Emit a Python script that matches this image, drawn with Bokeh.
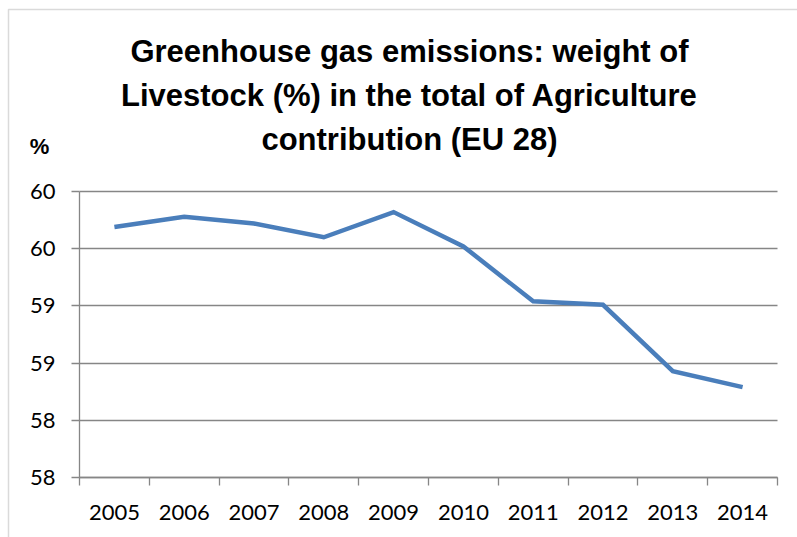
from bokeh.plotting import figure
from bokeh.models import FixedTicker, NumeralTickFormatter, Label, BoxAnnotation, Range1d
from bokeh.embed import file_html
from bokeh.resources import INLINE

# Share of livestock in agriculture GHG emissions, EU 28
years = ["2005", "2006", "2007", "2008", "2009", "2010", "2011", "2012", "2013", "2014"]
livestock_share = [59.99, 60.08, 60.02, 59.90, 60.12, 59.82, 59.34, 59.31, 58.73, 58.59]

y_ticks = [57.8, 58.3, 58.8, 59.3, 59.8, 60.3]

title_lines = [
    "Greenhouse gas emissions: weight of",
    "Livestock (%) in the total of Agriculture",
    "contribution (EU 28)",
]
unit_label = "%"

W, H = 797, 537
# plot area inside the canvas (pixels)
AREA_LEFT, AREA_RIGHT, AREA_TOP, AREA_BOTTOM = 79, 777, 191, 477

GRID = "#868686"
LINE = "#4a7ebb"
TICK_FONT = "Lato"
TITLE_FONT = "Liberation Sans"

n = len(years)
xs = [i + 0.5 for i in range(n)]

# the frame fills the whole canvas; ranges are stretched so the data area sits where it should
kx = (AREA_RIGHT - AREA_LEFT) / n
ky = (AREA_BOTTOM - AREA_TOP) / (y_ticks[-1] - y_ticks[0])
x_range = Range1d(-AREA_LEFT / kx, n + (W - AREA_RIGHT) / kx)
y_range = Range1d(y_ticks[0] - (H - AREA_BOTTOM) / ky, y_ticks[-1] + AREA_TOP / ky)

p = figure(
    width=W, height=H, x_range=x_range, y_range=y_range,
    output_backend="svg", toolbar_location=None, min_border=0,
)
p.outline_line_color = None
p.background_fill_color = "white"
p.border_fill_color = "white"

# y axis
yax = p.yaxis[0]
yax.fixed_location = 0
yax.bounds = (y_ticks[0], y_ticks[-1])
yax.ticker = FixedTicker(ticks=y_ticks)
yax.formatter = NumeralTickFormatter(format="0")
yax.axis_line_color = GRID
yax.axis_line_width = 1.3
yax.major_tick_line_color = GRID
yax.major_tick_line_width = 1.3
yax.major_tick_out = 8
yax.major_tick_in = 0
yax.minor_tick_line_color = None
yax.major_label_text_font = TICK_FONT
yax.major_label_text_font_size = "22px"
yax.major_label_text_color = "black"
yax.major_label_standoff = 16

# x axis: year labels at category centres, tick marks on the boundaries
xax = p.xaxis[0]
xax.fixed_location = y_ticks[0]
xax.bounds = (0, n)
xax.ticker = FixedTicker(ticks=xs, minor_ticks=list(range(n + 1)))
xax.major_label_overrides = {x: y for x, y in zip(xs, years)}
xax.axis_line_color = GRID
xax.axis_line_width = 1.3
xax.major_tick_line_color = None
xax.minor_tick_line_color = GRID
xax.minor_tick_line_width = 1.3
xax.minor_tick_out = 8
xax.minor_tick_in = 0
xax.major_label_text_font = TICK_FONT
xax.major_label_text_font_size = "22px"
xax.major_label_text_color = "black"
xax.major_label_standoff = 19

p.xgrid.grid_line_color = None
p.ygrid.ticker = FixedTicker(ticks=y_ticks)
p.ygrid.cross_bounds = (0, n)
p.ygrid.grid_line_color = GRID
p.ygrid.grid_line_width = 1.3

p.line(xs, livestock_share, line_color=LINE, line_width=4.5, line_join="miter")

# chart title, three centred lines (screen units: x from left, y up from bottom)
for i, t in enumerate(title_lines):
    p.add_layout(Label(
        x=409, y=H - (51 + 44 * i), x_units="screen", y_units="screen", text=t,
        text_font=TITLE_FONT, text_font_style="bold", text_font_size="31px",
        text_align="center", text_baseline="middle", text_color="black",
    ))

p.add_layout(Label(
    x=39, y=H - 146, x_units="screen", y_units="screen", text=unit_label,
    text_font=TITLE_FONT, text_font_style="bold", text_font_size="22px",
    text_align="center", text_baseline="middle", text_color="black",
))

# outer chart border (left and top edges)
p.add_layout(BoxAnnotation(
    left=8, right=W + 50, top=H - 9, bottom=-50,
    left_units="screen", right_units="screen", top_units="screen", bottom_units="screen",
    fill_alpha=0, line_color=GRID, line_width=1.5,
))

open("out.html", "w").write(file_html(p, INLINE))
